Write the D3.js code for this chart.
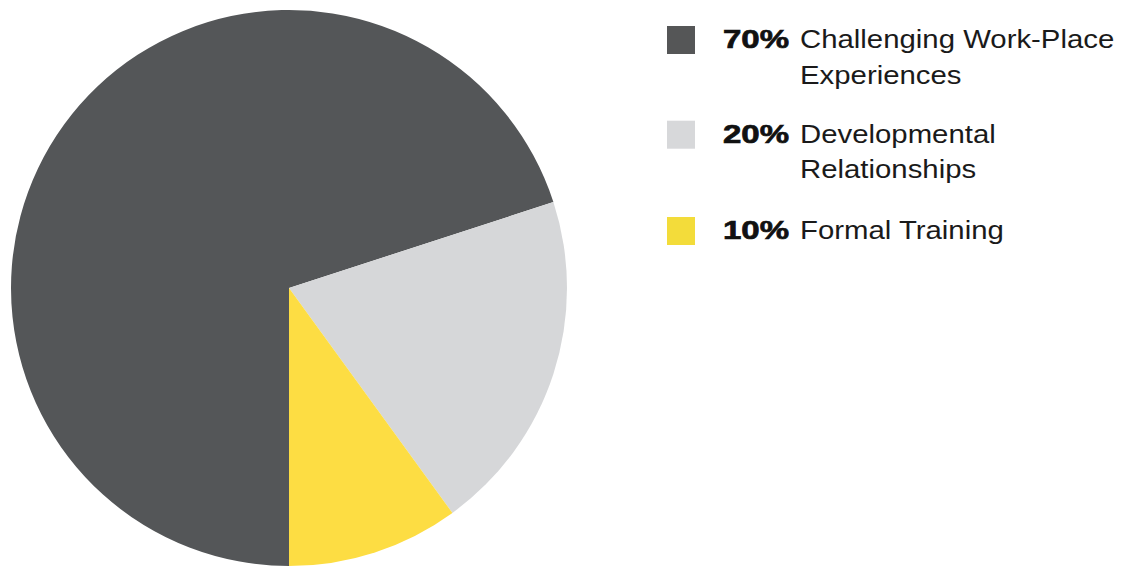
<!DOCTYPE html>
<html>
<head>
<meta charset="utf-8">
<script src="https://cdn.jsdelivr.net/npm/d3@7"></script>
<style>
  html, body { margin: 0; padding: 0; background: #fff; }
  svg { display: block; }
</style>
</head>
<body>
<svg id="chart" width="1125" height="566"></svg>
<script>
// ---- Data ----
const categories = ["Challenging Work-Place Experiences", "Developmental Relationships", "Formal Training"];
const labelLines = [["Challenging Work-Place", "Experiences"], ["Developmental", "Relationships"], ["Formal Training"]];
const values = [70, 20, 10];
const percentLabels = ["70%", "20%", "10%"];
const colors = ["#545658", "#d6d7d9", "#fddd43"];
const legendColors = ["#555657", "#d7d8da", "#f3dc3a"];

// ---- Layout ----
const svg = d3.select("#chart");
const cx = 289, cy = 288, radius = 278;

const pie = d3.pie().sort(null).startAngle(Math.PI).endAngle(3 * Math.PI).value(d => d);
const arc = d3.arc().innerRadius(0).outerRadius(radius);

const g = svg.append("g").attr("transform", `translate(${cx},${cy})`);
g.selectAll("path")
  .data(pie(values))
  .join("path")
  .attr("d", arc)
  .attr("fill", (d, i) => colors[i]);

// ---- Legend ----
const legendX = 667, boldX = 723, textX = 800;
const baselines = [48, 142.7, 239];
const lineH = 35.5;
const fontSize = 26;

const legend = svg.append("g");
const items = legend.selectAll("g.item")
  .data(categories)
  .join("g")
  .attr("class", "item");

items.append("rect")
  .attr("x", legendX)
  .attr("y", (d, i) => baselines[i] - 22)
  .attr("width", 28)
  .attr("height", 28)
  .attr("fill", (d, i) => legendColors[i]);

items.append("g")
  .attr("transform", (d, i) => `translate(${boldX},${baselines[i]}) scale(1.27,1)`)
  .append("text")
  .attr("font-family", "'Liberation Sans', Arial, sans-serif")
  .attr("font-weight", "bold")
  .attr("font-size", fontSize)
  .attr("fill", "#111")
  .attr("stroke", "#111")
  .attr("stroke-width", 0.7)
  .text((d, i) => percentLabels[i]);

items.each(function(d, i) {
  const sel = d3.select(this);
  labelLines[i].forEach((line, j) => {
    sel.append("g")
      .attr("transform", `translate(${textX},${baselines[i] + j * lineH}) scale(1.129,1)`)
      .append("text")
      .attr("font-family", "'Liberation Sans', Arial, sans-serif")
      .attr("font-size", fontSize)
      .attr("fill", "#1a1a1a")
      .text(line);
  });
});
</script>
</body>
</html>
